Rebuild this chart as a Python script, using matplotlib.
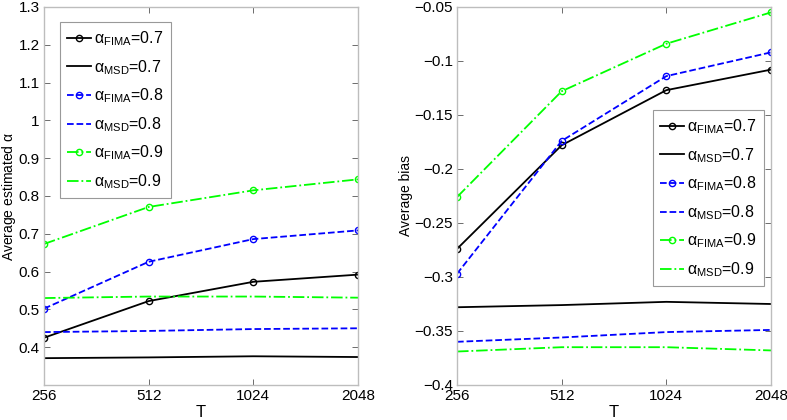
import numpy as np
import matplotlib
matplotlib.use('Agg')
import matplotlib.pyplot as plt

plt.rcParams['font.family'] = ['Liberation Sans', 'DejaVu Sans']
plt.rcParams['mathtext.fontset'] = 'custom'
plt.rcParams['mathtext.rm'] = 'Liberation Sans'
plt.rcParams['mathtext.it'] = 'Liberation Sans'

##################
## data
T = [256, 512, 1024, 2048]

# left panel: average estimated alpha
est_fima_07 = [0.425, 0.522, 0.573, 0.592]
est_msd_07 = [0.371, 0.373, 0.376, 0.374]
est_fima_08 = [0.502, 0.626, 0.686, 0.709]
est_msd_08 = [0.440, 0.443, 0.448, 0.450]
est_fima_09 = [0.673, 0.771, 0.815, 0.844]
est_msd_09 = [0.530, 0.534, 0.534, 0.531]

# right panel: average bias
bias_fima_07 = [-0.274, -0.178, -0.127, -0.108]
bias_msd_07 = [-0.328, -0.326, -0.323, -0.325]
bias_fima_08 = [-0.297, -0.174, -0.114, -0.092]
bias_msd_08 = [-0.360, -0.356, -0.351, -0.349]
bias_fima_09 = [-0.226, -0.128, -0.084, -0.055]
bias_msd_09 = [-0.369, -0.365, -0.365, -0.368]

left_yticks = [0.4, 0.5, 0.6, 0.7, 0.8, 0.9, 1.0, 1.1, 1.2, 1.3]
left_yticklabels = ['0.4', '0.5', '0.6', '0.7', '0.8', '0.9', '1', '1.1', '1.2', '1.3']
right_yticks = [-0.4, -0.35, -0.3, -0.25, -0.2, -0.15, -0.1, -0.05]
right_yticklabels = ['\u22120.4', '\u22120.35', '\u22120.3', '\u22120.25', '\u22120.2',
                     '\u22120.15', '\u22120.1', '\u22120.05']

labels = [r'$\alpha_{\mathrm{FIMA}}$=0.7', r'$\alpha_{\mathrm{MSD}}$=0.7',
          r'$\alpha_{\mathrm{FIMA}}$=0.8', r'$\alpha_{\mathrm{MSD}}$=0.8',
          r'$\alpha_{\mathrm{FIMA}}$=0.9', r'$\alpha_{\mathrm{MSD}}$=0.9']

black = '#000000'
blue = '#0000ff'
green = '#00ff00'
styles = [dict(color=black, ls='-', marker='o'),
          dict(color=black, ls='-'),
          dict(color=blue, ls='--', marker='o'),
          dict(color=blue, ls='--'),
          dict(color=green, ls='-.', marker='o'),
          dict(color=green, ls='-.')]

fig = plt.figure(figsize=(7.87, 4.2), dpi=100)
ax1 = fig.add_axes([44/787, 1-385/420, 314/787, 378/420])
ax2 = fig.add_axes([457/787, 1-385/420, 314/787, 378/420])


def draw(ax, series, yticks, yticklabels, ylim, ylabel, ylabel_x, leg_anchor):
    for vals, st, lab in zip(series, styles, labels):
        ax.plot(T, vals, lw=1.3, ms=4.5, mfc='none', mew=1.0, label=lab, **st)
    ax.set_xscale('log', base=2)
    ax.set_xlim(256, 2048)
    ax.set_xticks(T)
    ax.set_xticklabels([str(t) for t in T])
    ax.xaxis.set_minor_locator(matplotlib.ticker.NullLocator())
    ax.set_ylim(*ylim)
    ax.set_yticks(yticks)
    ax.set_yticklabels(yticklabels)
    ax.tick_params(direction='in', length=4, width=0.6, color='#555555',
                   labelsize=11, top=True, right=True, pad=3)
    for sp in ax.spines.values():
        sp.set_color('#bdbdbd')
        sp.set_linewidth(1.0)
    ax.set_xlabel('T', fontsize=12, labelpad=1)
    ax.set_ylabel(ylabel, fontsize=10)
    ax.yaxis.set_label_coords(ylabel_x, 0.5)
    leg = ax.legend(loc='upper left', bbox_to_anchor=leg_anchor, borderaxespad=0,
                    fontsize=11.5, handlelength=1.5, handletextpad=0.2,
                    labelspacing=0.62, fancybox=False, framealpha=1,
                    edgecolor='#999999', borderpad=0.45)
    leg.get_frame().set_linewidth(0.8)


draw(ax1, [est_fima_07, est_msd_07, est_fima_08, est_msd_08, est_fima_09, est_msd_09],
     left_yticks, left_yticklabels, (0.3, 1.3), r'Average estimated $\alpha$', -0.083,
     (0.051, 0.960))
draw(ax2, [bias_fima_07, bias_msd_07, bias_fima_08, bias_msd_08, bias_fima_09, bias_msd_09],
     right_yticks, right_yticklabels, (-0.4, -0.05), 'Average bias', -0.14,
     (0.624, 0.727))

plt.savefig('out.png', dpi=100)
plt.close()
